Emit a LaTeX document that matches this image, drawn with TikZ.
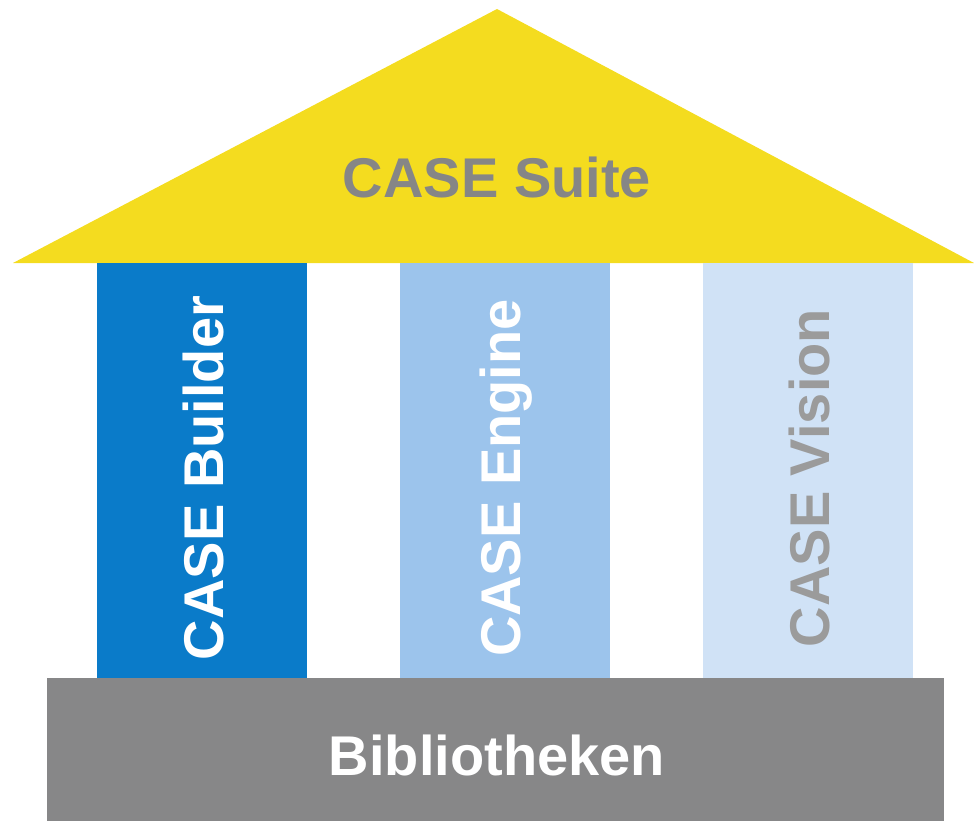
\documentclass[tikz,border=0pt]{standalone}
\usepackage{fontspec}
\setmainfont{Liberation Sans}
\usetikzlibrary{positioning}
\definecolor{roofyellow}{HTML}{F4DC1F}
\definecolor{builderblue}{HTML}{0A7BC9}
\definecolor{engineblue}{HTML}{9CC4EC}
\definecolor{visionblue}{HTML}{D0E2F6}
\definecolor{basegray}{HTML}{878788}
\definecolor{textgray}{HTML}{868686}
\definecolor{lightgray}{HTML}{9B9B9B}
\tikzset{
 label/.style={font=\fontsize{56}{60}\selectfont\bfseries,inner sep=0pt},
 pillar/.style={label,rotate=90}
}
\begin{document}
\begin{tikzpicture}[x=1pt,y=-1pt]
 \useasboundingbox (0,0) rectangle (974,821);
 % roof
 \fill[roofyellow] (13,263)--(497,9)--(974,263)--cycle;
 \node[label,text=textgray] (suite) at (497,177) {CASE Suite};
 % columns
 \foreach \x/\col/\txt/\tcol/\name in {97/builderblue/Builder/white/builder,
   400/engineblue/Engine/white/engine,703/visionblue/Vision/lightgray/vision}{
  \fill[\col] (\x,263) rectangle ++(210,415);
  \node[pillar,text=\tcol] (\name) at (\x+106,478) {CASE \txt};
 }
 % base
 \fill[basegray] (47,678) rectangle (944,821);
 \node[label,text=white] (lib) at (497,755) {Bibliotheken};
\end{tikzpicture}
\end{document}
